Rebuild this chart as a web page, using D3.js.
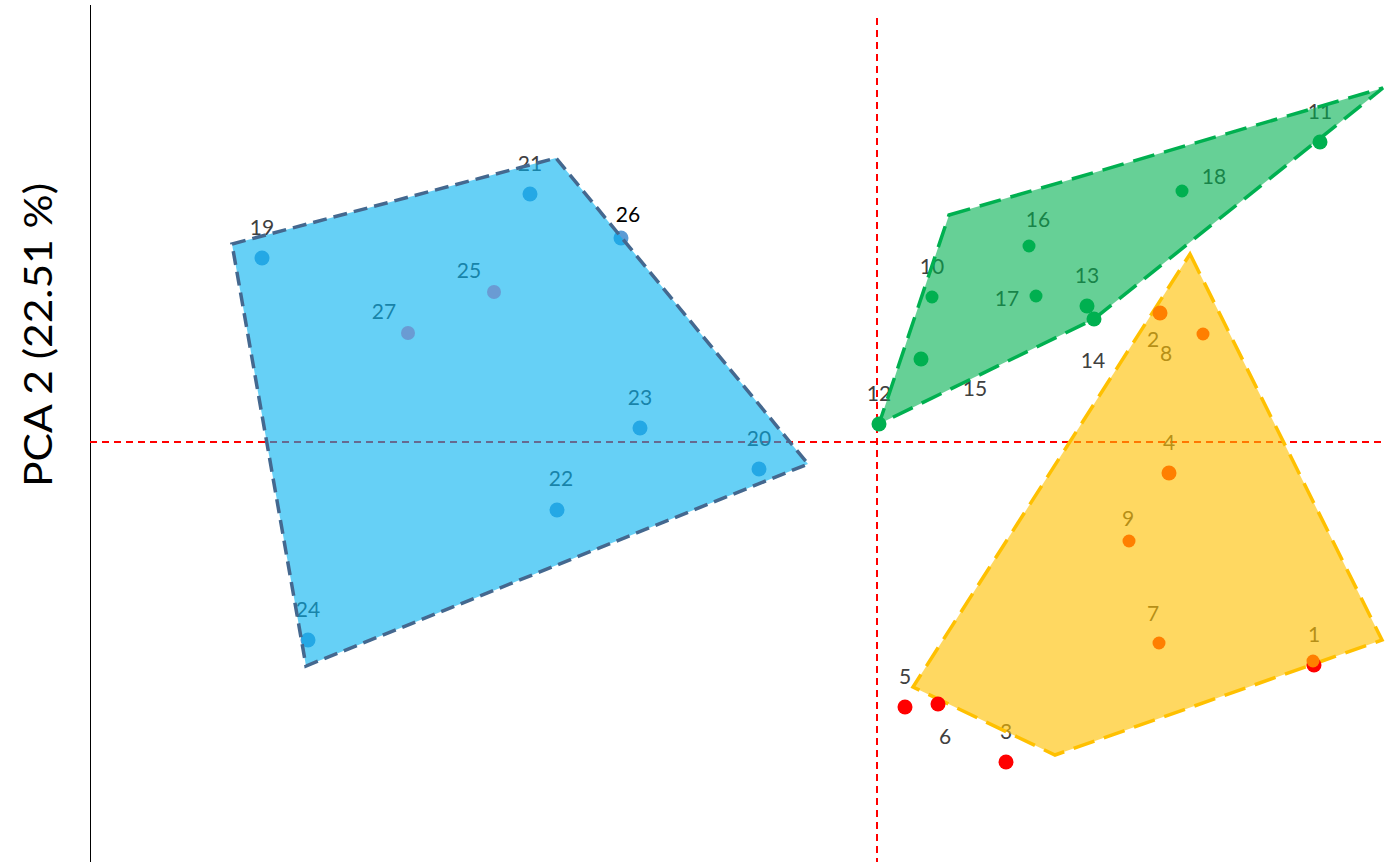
<!DOCTYPE html>
<html>
<head>
<meta charset="utf-8">
<script src="https://cdn.jsdelivr.net/npm/d3@7/dist/d3.min.js"></script>
<style>
  html, body { margin: 0; padding: 0; background: #fff; }
  svg { display: block; }
  text { font-family: Lato, "Open Sans", sans-serif; }
</style>
</head>
<body>
<div id="chart"></div>
<script>
// PCA score plot: sample scores on PC1 / PC2 with hulls drawn around each cluster.

const axisTitleY = "PCA 2 (22.51 %)";

// Sample ids and their scores
const blueIds = ["19", "21", "26", "23", "20", "22", "24"];
const blueX   = [-6.15, -3.47, -2.56, -2.37, -1.18, -3.20, -5.69];
const blueY   = [ 1.84,  2.48,  2.04,  0.14, -0.27, -0.68, -1.98];

const blueTopIds = ["25", "27"];
const blueTopX   = [-3.83, -4.69];
const blueTopY   = [ 1.50,  1.09];

const greenIds = ["11", "18", "16", "10", "17", "13", "14", "15", "12"];
const greenX   = [4.43, 3.05, 1.52, 0.55, 1.59, 2.10, 2.17, 0.44, 0.02];
const greenY   = [3.00, 2.51, 1.96, 1.45, 1.46, 1.36, 1.23, 0.83, 0.18];

const orangeIds = ["2", "8", "4", "9", "7", "1"];
const orangeX   = [2.83, 3.26,  2.92,  2.52,  2.82,  4.36];
const orangeY   = [1.29, 1.08, -0.31, -0.99, -2.01, -2.19];

const redIds = ["1", "5", "6", "3"];
const redX   = [4.37,  0.28,  0.61,  1.29];
const redY   = [-2.23, -2.65, -2.62, -3.20];

// Cluster hull vertices
const blueHullX   = [-6.45, -3.21, -0.69, -5.71];
const blueHullY   = [ 1.98,  2.84, -0.22, -2.24];
const greenHullX  = [0.72, 5.06, 2.17, 0.02];
const greenHullY  = [2.27, 3.54, 1.23, 0.18];
const yellowHullX = [3.13,  5.05,  1.78,  0.36];
const yellowHullY = [1.88, -1.98, -3.13, -2.45];

// ---- layout ----
const W = 1385, H = 862;
const x = d3.scaleLinear().domain([-7.87, 5.08]).range([90, 1385]);
const y = d3.scaleLinear().domain([-4.20, 4.42]).range([862, 0]);

// label offsets (px) from each point; default is centred above
const labelOffset = {
  "26": [7, -25], "25": [-25, -23], "27": [-24, -23], "22": [4, -33],
  "18": [32, -16], "16": [9, -28], "17": [-29, 1], "14": [-1, 40], "15": [54, 28],
  "2": [-7, 25], "8": [-37, 18], "9": [-1, -24], "7": [-6, -31], "6": [7, 31]
};
const labelColor = { "26": "#000000" };
// slightly larger markers for a few samples
const bigMarker = new Set(["11", "12", "13", "14", "15", "2", "4"]);

const zip = (ids, xs, ys) => ids.map((id, i) => ({ id, x: xs[i], y: ys[i] }));
const hull = (xs, ys) => xs.map((v, i) => [x(v), y(ys[i])]);

const blue = zip(blueIds, blueX, blueY);
const blueTop = zip(blueTopIds, blueTopX, blueTopY);
const green = zip(greenIds, greenX, greenY);
const orange = zip(orangeIds, orangeX, orangeY);
const red = zip(redIds, redX, redY);

const svg = d3.select("#chart").append("svg")
  .attr("width", W).attr("height", H);

// y axis line (no ticks)
svg.append("line")
  .attr("x1", 90.5).attr("x2", 90.5).attr("y1", 5).attr("y2", H)
  .attr("stroke", "#000").attr("stroke-width", 1);

svg.append("text")
  .attr("transform", `translate(52, ${335}) rotate(-90)`)
  .attr("text-anchor", "middle")
  .attr("font-size", 38)
  .attr("fill", "#000")
  .attr("textLength", 304)
  .attr("lengthAdjust", "spacingAndGlyphs")
  .text(axisTitleY);

// zero reference lines
svg.append("line")
  .attr("x1", x(0)).attr("x2", x(0)).attr("y1", 18).attr("y2", H)
  .attr("stroke", "#ff0000").attr("stroke-width", 2).attr("stroke-dasharray", "7,5");
svg.append("line")
  .attr("x1", 90).attr("x2", W).attr("y1", y(0)).attr("y2", y(0))
  .attr("stroke", "#ff0000").attr("stroke-width", 2).attr("stroke-dasharray", "7,5");

// all labels sit beneath the translucent hulls
const allLabelled = [...blue, ...blueTop, ...green, ...orange.filter(d => d.id !== "1"), ...red];
svg.append("g").selectAll("text").data(allLabelled).join("text")
  .attr("x", d => x(d.x) + (labelOffset[d.id] || [0, -32])[0])
  .attr("y", d => y(d.y) + (labelOffset[d.id] || [0, -32])[1])
  .attr("text-anchor", "middle")
  .attr("dominant-baseline", "central")
  .attr("font-size", 21)
  .attr("fill", d => labelColor[d.id] || "#404040")
  .text(d => d.id);

// blue cluster points under the hull
svg.append("g").selectAll("circle").data(blue).join("circle")
  .attr("cx", d => x(d.x)).attr("cy", d => y(d.y)).attr("r", 7.5)
  .attr("fill", "#5b9bd5");

// hulls
const line = d3.line().curve(d3.curveLinearClosed);
svg.append("path").attr("d", line(hull(blueHullX, blueHullY)))
  .attr("fill", "#00b0f0").attr("fill-opacity", 0.6)
  .attr("stroke", "#44688f").attr("stroke-width", 3.5)
  .attr("stroke-dasharray", "14,7");
svg.append("path").attr("d", line(hull(greenHullX, greenHullY)))
  .attr("fill", "#00b050").attr("fill-opacity", 0.6)
  .attr("stroke", "#00b050").attr("stroke-width", 3.5)
  .attr("stroke-dasharray", "22,10");
svg.append("path").attr("d", line(hull(yellowHullX, yellowHullY)))
  .attr("fill", "#ffc000").attr("fill-opacity", 0.62)
  .attr("stroke", "#ffc000").attr("stroke-width", 3.5)
  .attr("stroke-dasharray", "22,10");

// points drawn above the hulls
svg.append("g").selectAll("circle").data(blueTop).join("circle")
  .attr("cx", d => x(d.x)).attr("cy", d => y(d.y)).attr("r", 7)
  .attr("fill", "#6a9bd3");
svg.append("g").selectAll("circle").data(green).join("circle")
  .attr("cx", d => x(d.x)).attr("cy", d => y(d.y))
  .attr("r", d => bigMarker.has(d.id) ? 7.5 : 6.5)
  .attr("fill", "#00b050");
svg.append("g").selectAll("circle").data(red).join("circle")
  .attr("cx", d => x(d.x)).attr("cy", d => y(d.y)).attr("r", 7.5)
  .attr("fill", "#ff0000");
svg.append("g").selectAll("circle").data(orange).join("circle")
  .attr("cx", d => x(d.x)).attr("cy", d => y(d.y))
  .attr("r", d => bigMarker.has(d.id) ? 7.5 : 6.5)
  .attr("fill", "#ff7f00");
</script>
</body>
</html>
